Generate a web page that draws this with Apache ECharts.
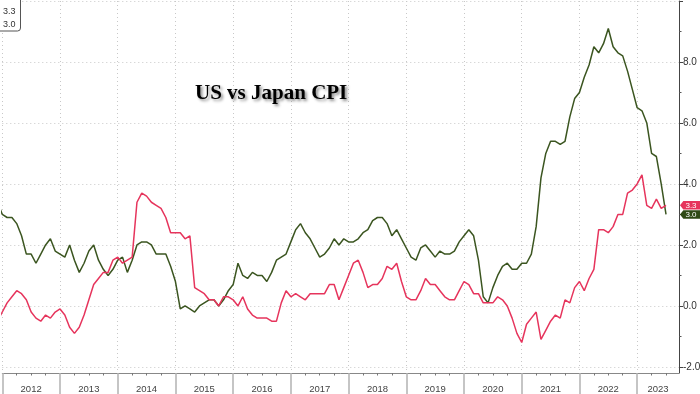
<!DOCTYPE html>
<html><head><meta charset="utf-8">
<script src="https://cdn.jsdelivr.net/npm/echarts@6/dist/echarts.min.js"></script>
<style>html,body{margin:0;padding:0;background:#fff}#c{width:700px;height:394px}</style>
</head><body><div id="c"></div>
<script>
// first data month (year, month) – values are monthly YoY % changes
const firstMonth = [2011, 11];
const years = ['2012','2013','2014','2015','2016','2017','2018','2019','2020','2021','2022','2023'];
const usCPI = [
  3.4, 3.0,
  2.9, 2.9, 2.7, 2.3, 1.7, 1.7, 1.4, 1.7, 2.0, 2.2, 1.8, 1.7,
  1.6, 2.0, 1.5, 1.1, 1.4, 1.8, 2.0, 1.5, 1.2, 1.0, 1.2, 1.5,
  1.6, 1.1, 1.5, 2.0, 2.1, 2.1, 2.0, 1.7, 1.7, 1.7, 1.3, 0.8,
  -0.1, 0.0, -0.1, -0.2, 0.0, 0.1, 0.2, 0.2, 0.0, 0.2, 0.5, 0.7,
  1.4, 1.0, 0.9, 1.1, 1.0, 1.0, 0.8, 1.1, 1.5, 1.6, 1.7, 2.1,
  2.5, 2.7, 2.4, 2.2, 1.9, 1.6, 1.7, 1.9, 2.2, 2.0, 2.2, 2.1,
  2.1, 2.2, 2.4, 2.5, 2.8, 2.9, 2.9, 2.7, 2.3, 2.5, 2.2, 1.9,
  1.6, 1.5, 1.9, 2.0, 1.8, 1.6, 1.8, 1.7, 1.7, 1.8, 2.1, 2.3,
  2.5, 2.3, 1.5, 0.3, 0.1, 0.6, 1.0, 1.3, 1.4, 1.2, 1.2, 1.4,
  1.4, 1.7, 2.6, 4.2, 5.0, 5.4, 5.4, 5.3, 5.4, 6.2, 6.8, 7.0,
  7.5, 7.9, 8.5, 8.3, 8.6, 9.1, 8.5, 8.3, 8.2, 7.7, 7.1, 6.5,
  6.4, 6.0, 5.0, 4.9, 4.0, 3.0
];
const japanCPI = [
  -0.5, -0.2,
  0.1, 0.3, 0.5, 0.4, 0.2, -0.2, -0.4, -0.5, -0.3, -0.4, -0.2, -0.1,
  -0.3, -0.7, -0.9, -0.7, -0.3, 0.2, 0.7, 0.9, 1.1, 1.1, 1.5, 1.6,
  1.4, 1.5, 1.6, 3.4, 3.7, 3.6, 3.4, 3.3, 3.2, 2.9, 2.4, 2.4,
  2.4, 2.2, 2.3, 0.6, 0.5, 0.4, 0.2, 0.2, 0.0, 0.3, 0.3, 0.2,
  0.0, 0.3, -0.1, -0.3, -0.4, -0.4, -0.4, -0.5, -0.5, 0.1, 0.5, 0.3,
  0.4, 0.3, 0.2, 0.4, 0.4, 0.4, 0.4, 0.7, 0.7, 0.2, 0.6, 1.0,
  1.4, 1.5, 1.1, 0.6, 0.7, 0.7, 0.9, 1.3, 1.2, 1.4, 0.8, 0.3,
  0.2, 0.2, 0.5, 0.9, 0.7, 0.7, 0.5, 0.3, 0.2, 0.2, 0.5, 0.8,
  0.7, 0.4, 0.4, 0.1, 0.1, 0.1, 0.3, 0.2, 0.0, -0.4, -0.9, -1.2,
  -0.6, -0.4, -0.2, -1.1, -0.8, -0.5, -0.3, -0.4, 0.2, 0.1, 0.6, 0.8,
  0.5, 0.9, 1.2, 2.5, 2.5, 2.4, 2.6, 3.0, 3.0, 3.7, 3.8, 4.0,
  4.3, 3.3, 3.2, 3.5, 3.2, 3.3
];
const yLabels = [-2, 0, 2, 4, 6, 8];

const GREEN = '#3b5520';
const GREEN_TAG = '#2f4a16';
const RED = '#e6345c';
const X_MAX = 140.7;   // months after 1 Jan 2012 at the right edge of the plot
const NARROW = '"Liberation Sans Narrow", "Liberation Sans", Arial, sans-serif';

// month-end position (in months after 1 Jan 2012) of the i-th data point
const monthPos = i => (firstMonth[0] - 2012) * 12 + firstMonth[1] + i;
const toPairs = arr => arr.map((v, i) => [monthPos(i), v]);

const yearStarts = years.map((y, k) => k * 12);
const yearMids = years.map((y, k) => (k * 12 + Math.min((k + 1) * 12, X_MAX)) / 2);

const usLast = usCPI[usCPI.length - 1];
const jpLast = japanCPI[japanCPI.length - 1];

function tag(color, value) {
  return {
    symbol: 'path://M0,5L5,0L30,0L30,10L5,10Z',
    symbolSize: [20, 8.5],
    symbolKeepAspect: false,
    symbolOffset: [11, 0],
    silent: true,
    itemStyle: { color: color },
    label: {
      show: true, position: 'inside', color: '#fff', fontSize: 8, fontFamily: NARROW,
      offset: [1, 0.5],
      formatter: p => p.value.toFixed(1)
    },
    data: [{ coord: [X_MAX, value], value: value }]
  };
}

const chart = echarts.init(document.getElementById('c'), null, { renderer: 'canvas' });
chart.setOption({
  animation: false,
  backgroundColor: '#fff',
  title: {
    text: 'US vs Japan CPI',
    left: 190, top: 78,
    textStyle: {
      fontFamily: '"Liberation Serif", "DejaVu Serif", serif',
      fontWeight: 'bold', fontSize: 21, color: '#000',
      textShadowColor: 'rgba(0,0,0,0.45)', textShadowBlur: 3,
      textShadowOffsetX: 2, textShadowOffsetY: 2
    }
  },
  legend: {
    data: ['Japan CPI YoY', 'US CPI YoY'],
    orient: 'vertical',
    left: -4, top: -3,
    itemWidth: 0, itemHeight: 0, itemGap: 3,
    padding: [10, 5, 1, 1],
    borderColor: '#555', borderWidth: 1, borderRadius: 3,
    backgroundColor: '#fff',
    selectedMode: false,
    textStyle: { fontSize: 9, color: '#333', lineHeight: 10, fontFamily: NARROW },
    formatter: name => (name === 'US CPI YoY' ? usLast : jpLast).toFixed(1)
  },
  grid: { left: 2.3, right: 21, top: 1, bottom: 21, containLabel: false, outerBoundsMode: 'none' },
  xAxis: {
    type: 'value',
    min: 0, max: X_MAX, interval: 12,
    axisLine: { show: true, onZero: false, lineStyle: { color: '#888', width: 1 } },
    axisTick: { show: true, length: 21, customValues: yearStarts, lineStyle: { color: '#b3b3b3', width: 1.5 } },
    minorTick: { show: true, splitNumber: 4, length: 2.5, lineStyle: { color: '#777', width: 1 } },
    minorSplitLine: { show: false },
    axisLabel: {
      customValues: yearMids,
      formatter: v => years[Math.floor(v / 12)],
      fontSize: 9.5, color: '#444', margin: 11, fontFamily: NARROW
    },
    splitLine: { show: true, lineStyle: { color: '#c8c8c8', type: [1, 3], width: 1 } }
  },
  yAxis: {
    type: 'value',
    position: 'right',
    min: -2.2, max: 10,
    axisLine: { show: true, onZero: false, lineStyle: { color: '#444', width: 1 } },
    axisTick: { show: true, length: 4, customValues: [-2, 0, 2, 4, 6, 8, 10], lineStyle: { color: '#444' } },
    minorTick: { show: true, splitNumber: 2, length: 2.5, lineStyle: { color: '#555' } },
    axisLabel: {
      customValues: yLabels,
      formatter: v => v.toFixed(1),
      fontSize: 10, color: '#333', margin: 4, fontFamily: NARROW
    },
    splitLine: { show: true, lineStyle: { color: '#c8c8c8', type: [1, 3], width: 1 } }
  },
  series: [
    {
      name: 'US CPI YoY', type: 'line', data: toPairs(usCPI),
      symbol: 'none', showSymbol: false, clip: false,
      lineStyle: { color: GREEN, width: 1.5 }, itemStyle: { color: GREEN },
      markPoint: tag(GREEN_TAG, usLast)
    },
    {
      name: 'Japan CPI YoY', type: 'line', data: toPairs(japanCPI),
      symbol: 'none', showSymbol: false, clip: false,
      lineStyle: { color: RED, width: 1.5 }, itemStyle: { color: RED },
      markPoint: tag(RED, jpLast)
    }
  ]
});
</script>
</body></html>
